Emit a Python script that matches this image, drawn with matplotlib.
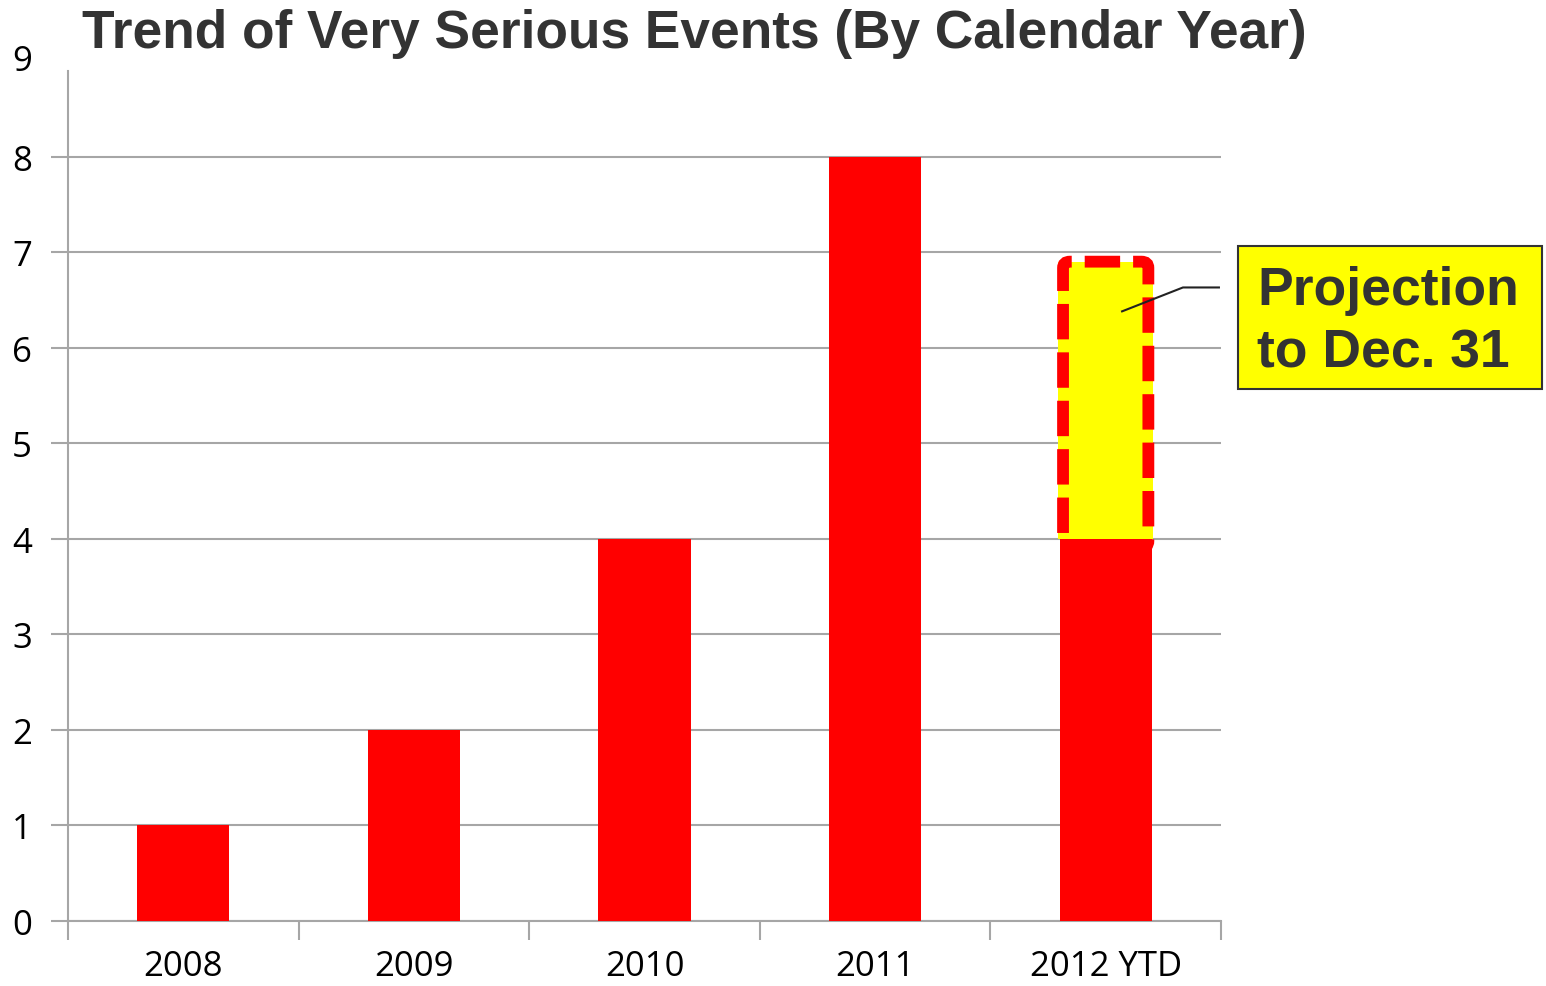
import matplotlib.pyplot as plt
from matplotlib.patches import FancyBboxPatch, Rectangle

years = ["2008", "2009", "2010", "2011", "2012 YTD"]
events = [1, 2, 4, 8, 4]
projection = 6.9  # projected total for 2012 by Dec. 31

fig = plt.figure(figsize=(15.46, 9.87), dpi=100)
ax = fig.add_axes([68/1546, 1-922/987, (1221-68)/1546, (922-62)/987])

x = list(range(len(years)))
grid_c = "#a6a6a6"
tick_fs = 25

ax.bar(x, events, width=0.4, color="#ff0000", zorder=3)
# projected part of the last bar
ax.bar(x[-1], projection - events[-1], bottom=events[-1], width=0.41,
       color="#ffff00", zorder=3)
border = FancyBboxPatch((x[-1] - 0.185, 3.91), 0.37, projection - 3.91,
                        boxstyle="round,pad=0,rounding_size=0.03",
                        mutation_aspect=1/0.45,
                        fill=False, edgecolor="#ff0000", linewidth=8.5,
                        linestyle=(0, (3.0, 1.1)), zorder=4)
ax.add_patch(border)

ax.set_xlim(-0.5, len(years) - 0.5)
ax.set_ylim(0, 9)
ax.set_yticks(range(0, 9))
ax.yaxis.grid(True, color=grid_c, linewidth=1.5, zorder=0)
ax.set_axisbelow(True)

ax.set_xticks(x)
ax.set_xticklabels(years, fontsize=tick_fs, family="Open Sans")
ax.tick_params(axis="x", length=0, pad=20)
ax.set_xticks([i - 0.5 for i in range(len(years) + 1)], minor=True)
ax.tick_params(axis="x", which="minor", length=14, width=1.5, color=grid_c)
ax.tick_params(axis="y", length=12, width=1.5, color=grid_c, pad=14,
               labelsize=tick_fs)
for lab in ax.get_yticklabels():
    lab.set_family("Open Sans")
# the 9 label sits at the top without a gridline
ax.annotate("9", xy=(0, 9), xycoords=("axes fraction", "data"),
            xytext=(-36, 0), textcoords="offset pixels",
            ha="right", va="center", fontsize=tick_fs, family="Open Sans")

for s in ["top", "right"]:
    ax.spines[s].set_visible(False)
ax.spines["left"].set_color(grid_c)
ax.spines["left"].set_linewidth(1.5)
ax.spines["left"].set_bounds(0, 8.9)
ax.spines["bottom"].set_color(grid_c)
ax.spines["bottom"].set_linewidth(1.5)

# leader line to callout
ax.plot([4.071, 4.335, 4.491], [6.38, 6.63, 6.63], color="#222222",
        linewidth=1.5, clip_on=False, zorder=5)

# callout box
fig.patches.append(Rectangle((1238/1546, 1-390/987), (1542-1238)/1546,
                             (390-247)/987, transform=fig.transFigure,
                             facecolor="#ffff00", edgecolor="#333333",
                             linewidth=1.5))
fig.text(1257/1546, 1-322/987, "Projection\nto Dec. 31", fontsize=38.5,
         fontweight="bold", family="Liberation Sans", color="#333333",
         ha="left", va="center", linespacing=1.32)

fig.text(82/1546, 1-34/987, "Trend of Very Serious Events (By Calendar Year)",
         fontsize=38.3, fontweight="bold", family="Liberation Sans",
         color="#333333", ha="left", va="center")

fig.savefig("out.png", dpi=100)
